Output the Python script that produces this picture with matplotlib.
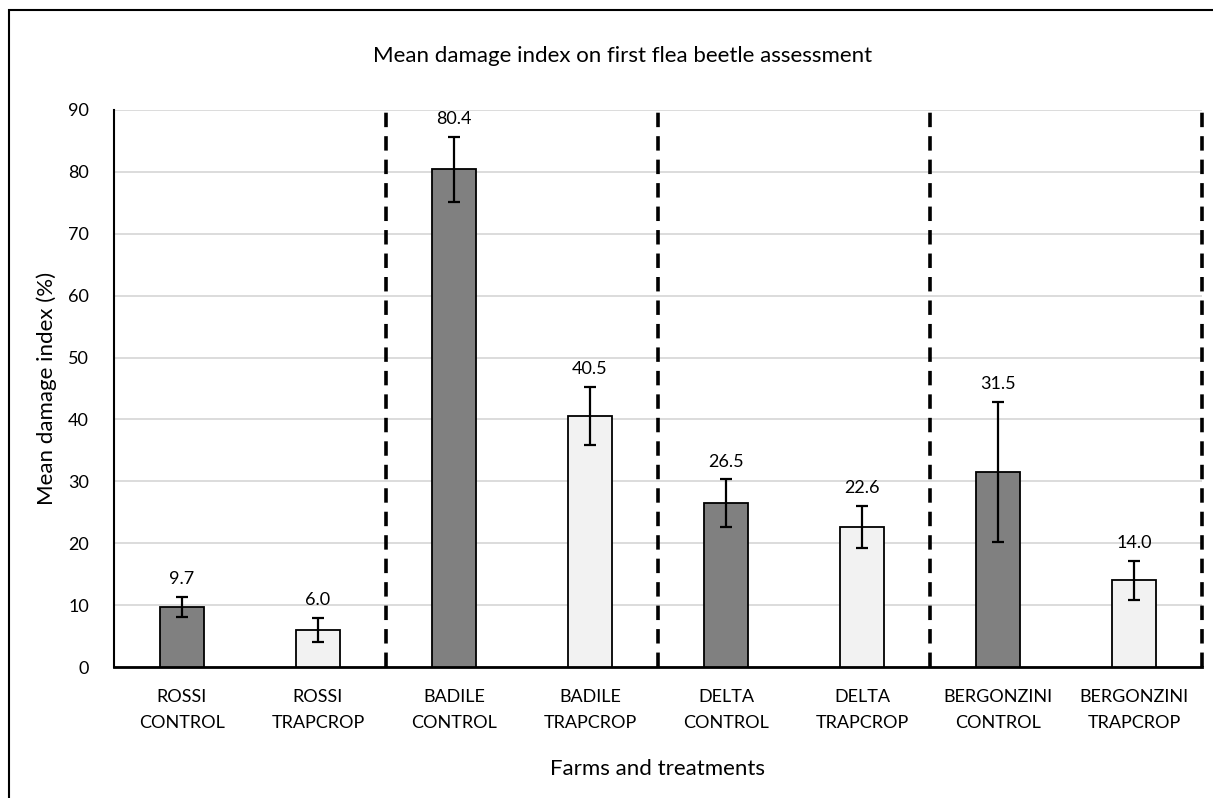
import matplotlib
matplotlib.use('Agg')
import matplotlib.pyplot as plt
from matplotlib.patches import Rectangle
import numpy as np

plt.rcParams['font.family'] = ['Lato', 'DejaVu Sans']

farms = ['ROSSI', 'ROSSI', 'BADILE', 'BADILE', 'DELTA', 'DELTA',
         'BERGONZINI', 'BERGONZINI']
treatments = ['CONTROL', 'TRAPCROP'] * 4
means = [9.7, 6.0, 80.4, 40.5, 26.5, 22.6, 31.5, 14.0]
errors = [1.6, 1.95, 5.2, 4.7, 3.8, 3.45, 11.3, 3.1]
bar_colors = ['#808080', '#f2f2f2'] * 4
separators = [1.5, 3.5, 5.5, 7.5]

fig = plt.figure(figsize=(12.13, 7.98), dpi=100)
# outer chart border (cut off on right/bottom as in the source)
fig.patches.append(Rectangle((9 / 1213, -0.05), 1.2, 1 - 10 / 798 + 0.05,
                             transform=fig.transFigure, fill=False,
                             edgecolor='black', linewidth=1.5))

ax = fig.add_axes([114 / 1213, 1 - 667 / 798, (1202 - 114) / 1213,
                   (667 - 110) / 798])
x = np.arange(len(means))
ax.bar(x, means, width=0.32, color=bar_colors, edgecolor='black',
       linewidth=1.3, zorder=3)
ax.errorbar(x, means, yerr=errors, fmt='none', ecolor='black',
            elinewidth=1.6, capsize=4.5, capthick=1.6, zorder=4)
for xi, m, e in zip(x, means, errors):
    ax.text(xi, m + e + 1.6, f'{m:.1f}', ha='center', va='bottom',
            fontsize=13)

for s in separators:
    ax.axvline(s, color='black', linestyle=(0, (4, 2.5)), linewidth=2.6,
               zorder=5, clip_on=False)

ax.set_xlim(-0.5, 7.5)
ax.set_ylim(0, 90)
ax.set_yticks(range(0, 91, 10))
ax.yaxis.grid(True, color='#d9d9d9', linewidth=1.3, zorder=0)
ax.set_xticks(x)
ax.set_xticklabels([f'{f}\n{t}' for f, t in zip(farms, treatments)],
                   fontsize=13, linespacing=1.75)
ax.tick_params(axis='both', length=0, labelsize=13)
ax.tick_params(axis='x', pad=16)
ax.tick_params(axis='y', pad=18)
for side in ['top', 'right']:
    ax.spines[side].set_visible(False)
ax.spines['left'].set_linewidth(1.5)
ax.spines['bottom'].set_linewidth(2)

ax.set_ylabel('Mean damage index (%)', fontsize=16, labelpad=8)
ax.set_xlabel('Farms and treatments', fontsize=16, labelpad=20)
fig.text(623 / 1213, 1 - 56 / 798,
         'Mean damage index on first flea beetle assessment',
         ha='center', va='center', fontsize=16)

fig.savefig('out.png', dpi=100)
